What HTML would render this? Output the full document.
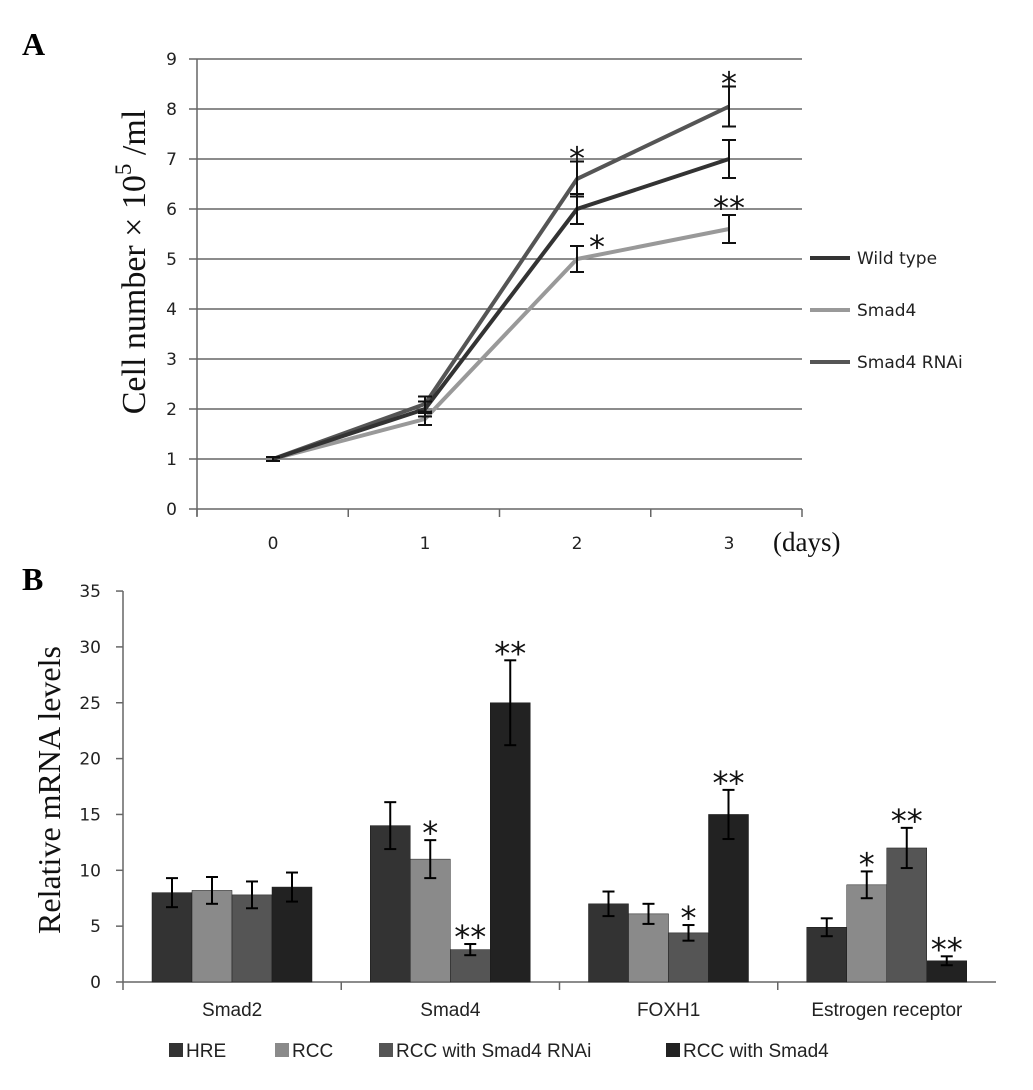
<!DOCTYPE html>
<html><head><meta charset="utf-8"><style>
body{margin:0;background:#fff;}
svg{display:block;}
</style></head><body>
<svg id="fig" width="1033" height="1090" xmlns="http://www.w3.org/2000/svg">
<text x="22" y="55" font-family="Liberation Serif" font-weight="bold" font-size="32">A</text>
<text x="22" y="590" font-family="Liberation Serif" font-weight="bold" font-size="32">B</text>
<text transform="translate(145,262) rotate(-90)" text-anchor="middle" font-family="Liberation Serif" font-size="34" fill="#111">Cell number × 10<tspan dy="-14" font-size="23">5</tspan><tspan dy="14"> /ml</tspan></text>
<text x="773" y="551" font-family="Liberation Serif" font-size="27" fill="#111">(days)</text>
<text transform="translate(60,790) rotate(-90)" text-anchor="middle" font-family="Liberation Serif" font-size="32" fill="#111">Relative mRNA levels</text>
<g id="a"></g><g id="b"></g>
</svg>
<script>
const days = ['0','1','2','3'];
const yTicksA = [0,1,2,3,4,5,6,7,8,9];
const wildType = [1,2.0,6.0,7.0];
const wildErr = [0.04,0.15,0.3,0.38];
const smad4 = [1,1.8,5.0,5.6];
const smad4Err = [0.04,0.12,0.26,0.28];
const rnai = [1,2.1,6.6,8.05];
const rnaiErr = [0.04,0.15,0.35,0.4];
const seriesNames = ['Wild type','Smad4','Smad4 RNAi'];

const categories = ['Smad2','Smad4','FOXH1','Estrogen receptor'];
const groupNames = ['HRE','RCC','RCC with Smad4 RNAi','RCC with  Smad4'];
const hre = [8,14,7,4.9];
const hreErr = [1.3,2.1,1.1,0.8];
const rcc = [8.2,11,6.1,8.7];
const rccErr = [1.2,1.7,0.9,1.2];
const rccRnai = [7.8,2.9,4.4,12];
const rccRnaiErr = [1.2,0.5,0.7,1.8];
const rccSmad4 = [8.5,25,15,1.9];
const rccSmad4Err = [1.3,3.8,2.2,0.4];
const yTicksB = [0,5,10,15,20,25,30,35];

const NS='http://www.w3.org/2000/svg';
function mk(p,t,a){const e=document.createElementNS(NS,t);for(const k in a)e.setAttribute(k,a[k]);p.appendChild(e);return e;}
const A=document.getElementById('a'), B=document.getElementById('b');

// Panel A
const ya=v=>509-v*50, xa=i=>273+i*152;
yTicksA.forEach(t=>{
  const l=mk(A,'line',{x1:189,x2:802,y1:ya(t),y2:ya(t),stroke:'#666','stroke-width':1.5});
  
  
  const tx=mk(A,'text',{x:177,y:ya(t)+6,'text-anchor':'end','font-family':'DejaVu Sans','font-size':17,fill:'#222'});tx.textContent=t;
  
  
});
let ax=mk(A,'line',{x1:197,x2:197,y1:ya(9),y2:ya(0)+7,stroke:'#666','stroke-width':1.5});


for(let i=0;i<=4;i++){const tk=mk(A,'line',{x1:197+i*151.25,x2:197+i*151.25,y1:ya(0),y2:ya(0)+8,stroke:'#666','stroke-width':1.5});
  
  }
days.forEach((d,i)=>{const tx=mk(A,'text',{x:xa(i),y:549,'text-anchor':'middle','font-family':'DejaVu Sans','font-size':17,fill:'#222'});tx.textContent=d;
  
  });
const sA=[[wildType,wildErr,'#333'],[smad4,smad4Err,'#999'],[rnai,rnaiErr,'#555']];
[1,2,0].forEach(k=>{const [v,e,c]=sA[k];
  const pl=mk(A,'polyline',{points:v.map((y,i)=>xa(i)+','+ya(y)).join(' '),fill:'none',stroke:c,'stroke-width':4});
  
  
});
sA.forEach(([v,e])=>v.forEach((y,i)=>{
  const g=mk(A,'g',{stroke:'#111','stroke-width':2});
  
  
  mk(g,'line',{x1:xa(i),x2:xa(i),y1:ya(y+e[i]),y2:ya(y-e[i])});
  mk(g,'line',{x1:xa(i)-7,x2:xa(i)+7,y1:ya(y+e[i]),y2:ya(y+e[i])});
  mk(g,'line',{x1:xa(i)-7,x2:xa(i)+7,y1:ya(y-e[i]),y2:ya(y-e[i])});
}));
function star(p,x,y,s,n){const t=mk(p,'text',{x:x,y:y,'text-anchor':'middle','font-family':'DejaVu Sans','font-size':32,fill:'#111'});t.textContent=s;
  
  }
star(A,xa(2),ya(rnai[2]+rnaiErr[2])+8,'*','sig-rnai-day2');
star(A,xa(3),ya(rnai[3]+rnaiErr[3])+8,'*','sig-rnai-day3');
star(A,xa(2)+20,ya(smad4[2]+smad4Err[2])+12,'*','sig-smad4-day2');
star(A,xa(3),ya(smad4[3]+smad4Err[3])+4,'**','sig-smad4-day3');
seriesNames.forEach((n,k)=>{const y=258+k*52;
  const g=mk(A,'g',{});
  
  
  mk(g,'line',{x1:810,x2:850,y1:y,y2:y,stroke:sA[k][2],'stroke-width':4});
  const t=mk(g,'text',{x:857,y:y+6,'font-family':'DejaVu Sans','font-size':17,fill:'#222'});t.textContent=n;});

// Panel B
const yb=v=>982-v*11.17, gw=218.25;
const sB=[[hre,hreErr,'#333'],[rcc,rccErr,'#8a8a8a'],[rccRnai,rccRnaiErr,'#555'],[rccSmad4,rccSmad4Err,'#222']];
yTicksB.forEach(t=>{const tk=mk(B,'line',{x1:116,x2:123,y1:yb(t),y2:yb(t),stroke:'#666','stroke-width':1.5});
  
  
  const tx=mk(B,'text',{x:101,y:yb(t)+6,'text-anchor':'end','font-family':'DejaVu Sans','font-size':17,fill:'#222'});tx.textContent=t;
  
  });
let bax=mk(B,'line',{x1:123,x2:123,y1:yb(35),y2:yb(0)+8,stroke:'#666','stroke-width':1.5});


let bxx=mk(B,'line',{x1:123,x2:996,y1:yb(0),y2:yb(0),stroke:'#666','stroke-width':1.5});


for(let i=1;i<4;i++){const tk=mk(B,'line',{x1:123+i*gw,x2:123+i*gw,y1:yb(0),y2:yb(0)+8,stroke:'#666','stroke-width':1.5});
  
  }
categories.forEach((c,i)=>{const tx=mk(B,'text',{x:123+(i+0.5)*gw,y:1016,'text-anchor':'middle','font-family':'Liberation Sans','font-size':19,fill:'#222'});tx.textContent=c;
  
  });
const bx=(i,k)=>123+i*gw+29+k*40;
sB.forEach(([v,e,c],k)=>v.forEach((y,i)=>{
  const r=mk(B,'rect',{x:bx(i,k),y:yb(y),width:40,height:yb(0)-yb(y),fill:c,stroke:'#1a1a1a','stroke-width':0.5});
  
  
  const cx=bx(i,k)+20;
  const g=mk(B,'g',{stroke:'#000','stroke-width':2});
  
  
  mk(g,'line',{x1:cx,x2:cx,y1:yb(y+e[i]),y2:yb(y-e[i])});
  mk(g,'line',{x1:cx-6,x2:cx+6,y1:yb(y+e[i]),y2:yb(y+e[i])});
  mk(g,'line',{x1:cx-6,x2:cx+6,y1:yb(y-e[i]),y2:yb(y-e[i])});
}));
const sig=[[1,1,'*'],[1,2,'**'],[1,3,'**'],[2,2,'*'],[2,3,'**'],[3,1,'*'],[3,2,'**'],[3,3,'**']];
sig.forEach(([i,k,s])=>{const v=sB[k][0][i]+sB[k][1][i];star(B,bx(i,k)+20,yb(v)+4,s,'sig-marker');});
const lx=[169,275,379,666];
groupNames.forEach((n,k)=>{const g=mk(B,'g',{});
  
  
  mk(g,'rect',{x:lx[k],y:1043,width:14,height:14,fill:sB[k][2]});
  const t=mk(g,'text',{x:lx[k]+17,y:1057,'font-family':'Liberation Sans','font-size':19,fill:'#222'});t.textContent=n;});
</script>
</body></html>
